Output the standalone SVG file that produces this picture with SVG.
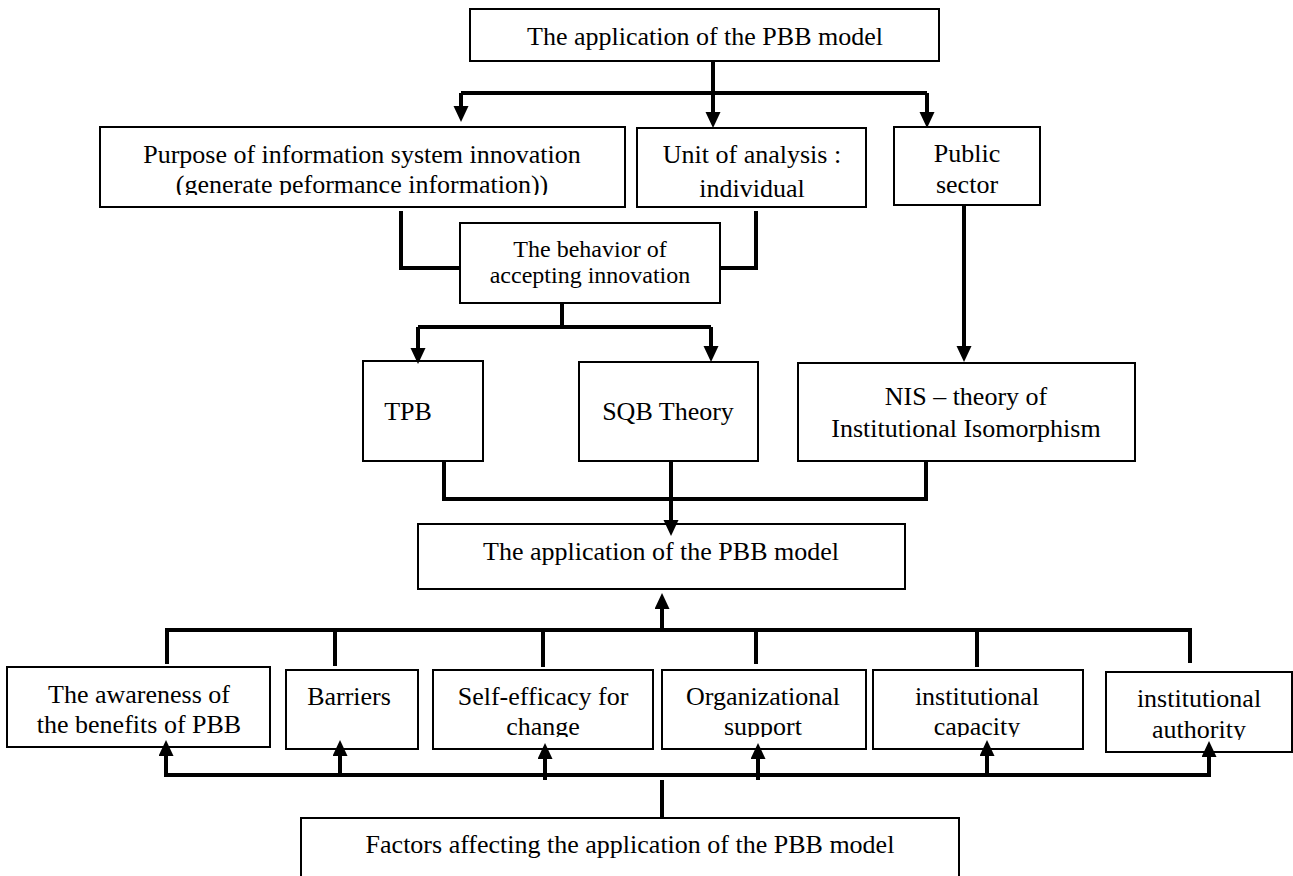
<svg xmlns="http://www.w3.org/2000/svg" width="1293" height="876" viewBox="0 0 1293 876">
<style>
.box{fill:#fff;stroke:#000;stroke-width:2}
.t{font-family:"Liberation Serif","Times New Roman",serif;font-size:26px;fill:#000;text-anchor:middle}
.s{font-size:24px}
.c{fill:none;stroke:#000;stroke-width:4}
.a{marker-end:url(#arr)}
</style>
<defs>
<marker id="arr" markerUnits="userSpaceOnUse" markerWidth="16" markerHeight="18" refX="10" refY="7.5" orient="auto">
<path d="M0,0 L16,7.5 L0,15 z" fill="#000"/>
</marker>
<clipPath id="clipPurpose"><rect x="90" y="120" width="545" height="75"/></clipPath>
<clipPath id="clipSelf"><rect x="430" y="660" width="230" height="77"/></clipPath>
<clipPath id="clipOrg"><rect x="660" y="660" width="210" height="77"/></clipPath>
<clipPath id="clipCap"><rect x="870" y="660" width="215" height="77"/></clipPath>
<clipPath id="clipAuth"><rect x="1100" y="660" width="193" height="80"/></clipPath>
</defs>
<rect width="1293" height="876" fill="#fff"/>

<g id="top">
<rect class="box" x="470" y="9" width="469" height="52"/>
<text class="t" x="705" y="45">The application of the PBB model</text>
</g>
<g id="purpose">
<rect class="box" x="100" y="127" width="525" height="80"/>
<g clip-path="url(#clipPurpose)">
<text class="t" x="362" y="163">Purpose of information system innovation</text>
<text class="t" x="362" y="193">(generate peformance information))</text>
</g>
</g>
<g id="unit">
<rect class="box" x="637" y="128" width="229" height="79"/>
<text class="t" x="752" y="163">Unit of analysis :</text>
<text class="t" x="752" y="197">individual</text>
</g>
<g id="public">
<rect class="box" x="894" y="127" width="146" height="78"/>
<text class="t" x="967" y="162">Public</text>
<text class="t" x="967" y="193">sector</text>
</g>
<g id="behavior">
<rect class="box" x="460" y="223" width="260" height="80"/>
<text class="t s" x="590" y="257">The behavior of</text>
<text class="t s" x="590" y="283">accepting innovation</text>
</g>
<g id="tpb">
<rect class="box" x="363" y="361" width="120" height="100"/>
<text class="t" x="408" y="420">TPB</text>
</g>
<g id="sqb">
<rect class="box" x="579" y="362" width="179" height="99"/>
<text class="t" x="668" y="420">SQB Theory</text>
</g>
<g id="nis">
<rect class="box" x="798" y="363" width="337" height="98"/>
<text class="t" x="966" y="405">NIS – theory of</text>
<text class="t" x="966" y="437">Institutional Isomorphism</text>
</g>
<g id="application">
<rect class="box" x="418" y="524" width="487" height="65"/>
<text class="t" x="661" y="560">The application of the PBB model</text>
</g>
<g id="awareness">
<rect class="box" x="7" y="667" width="263" height="80"/>
<text class="t" x="139" y="703">The awareness of</text>
<text class="t" x="139" y="733">the benefits of PBB</text>
</g>
<g id="barriers">
<rect class="box" x="286" y="670" width="132" height="79"/>
<text class="t" x="349" y="705">Barriers</text>
</g>
<g id="selfefficacy">
<rect class="box" x="433" y="670" width="220" height="79"/>
<g clip-path="url(#clipSelf)">
<text class="t" x="543" y="705">Self-efficacy for</text>
<text class="t" x="543" y="735">change</text>
</g>
</g>
<g id="organizational">
<rect class="box" x="662" y="670" width="204" height="79"/>
<g clip-path="url(#clipOrg)">
<text class="t" x="763" y="705">Organizational</text>
<text class="t" x="763" y="735">support</text>
</g>
</g>
<g id="capacity">
<rect class="box" x="873" y="670" width="210" height="79"/>
<g clip-path="url(#clipCap)">
<text class="t" x="977" y="705">institutional</text>
<text class="t" x="977" y="735">capacity</text>
</g>
</g>
<g id="authority">
<rect class="box" x="1106" y="672" width="186" height="80"/>
<g clip-path="url(#clipAuth)">
<text class="t" x="1199" y="707">institutional</text>
<text class="t" x="1199" y="738">authority</text>
</g>
</g>
<g id="factors">
<rect class="box" x="301" y="818" width="658" height="70"/>
<text class="t" x="630" y="853">Factors affecting the application of the PBB model</text>
</g>

<g id="connectors">
<path class="c" d="M713,61 V93"/>
<path class="c" d="M461,93 H927"/>
<path class="c a" d="M461,93 V116"/>
<path class="c a" d="M713,93 V122"/>
<path class="c a" d="M927,93 V122"/>
<path class="c" d="M401,211 V268 H460"/>
<path class="c" d="M756,211 V268 H720"/>
<path class="c" d="M562,303 V327"/>
<path class="c" d="M418,327 H711"/>
<path class="c a" d="M418,327 V358"/>
<path class="c a" d="M711,327 V356"/>
<path class="c a" d="M964,206 V356"/>
<path class="c" d="M444,462 V499 H926 V462"/>
<path class="c a" d="M671,462 V530"/>
<path class="c a" d="M662,630 V599"/>
<path class="c" d="M167,630 H1190"/>
<path class="c" d="M167,628 V664"/>
<path class="c" d="M335,630 V666"/>
<path class="c" d="M543,630 V667"/>
<path class="c" d="M756,630 V664"/>
<path class="c" d="M977,630 V667"/>
<path class="c" d="M1190,628 V663"/>
<path class="c" d="M662,817 V780"/>
<path class="c" d="M166,775 H1209"/>
<path class="c a" d="M166,777 V746"/>
<path class="c a" d="M340,775 V746"/>
<path class="c a" d="M545,780 V749"/>
<path class="c a" d="M758,780 V749"/>
<path class="c a" d="M987,775 V746"/>
<path class="c a" d="M1209,777 V747"/>
</g>
</svg>
